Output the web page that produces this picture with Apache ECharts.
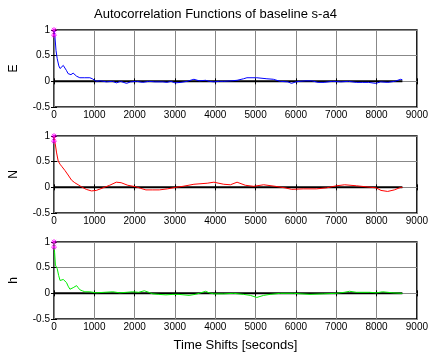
<!DOCTYPE html>
<html><head><meta charset="utf-8">
<script src="https://cdn.jsdelivr.net/npm/echarts@6/dist/echarts.min.js"></script>
<style>html,body{margin:0;padding:0;background:#fff}#c{width:431px;height:354px}</style>
</head><body><div id="c"></div>
<script>
var titleText = "Autocorrelation Functions of baseline s-a4";
var xAxisName = "Time Shifts [seconds]";
var panelNames = ["E", "N", "h"];
var xTicks = [0,1000,2000,3000,4000,5000,6000,7000,8000,9000];
var yTicks = [-0.5, 0, 0.5, 1];

var eLag = [0,20,50,80,120,150,190,230,270,310,350,375,420,475,520,560,600,640,750,890,950,980,1050,1150,1300,1450,1550,1650,1800,1900,2050,2200,2350,2500,2700,2800,2900,3000,3150,3300,3470,3600,3760,3850,3965,4100,4210,4400,4540,4700,4785,5030,5280,5440,5610,5800,5890,6000,6100,6250,6390,6550,6700,6900,7120,7300,7500,7650,7800,7980,8100,8280,8450,8600,8640];
var eVal = [1,0.9,0.6,0.44,0.3,0.25,0.27,0.31,0.26,0.21,0.15,0.12,0.13,0.16,0.13,0.10,0.08,0.07,0.07,0.07,0.05,0.02,0.0,0.01,-0.01,0.0,-0.03,0.0,-0.04,-0.01,0.0,-0.02,0.0,-0.01,-0.01,-0.02,0.0,-0.03,-0.02,0.0,0.04,0.01,0.02,0.0,-0.01,0.0,0.0,0.01,0.02,0.05,0.07,0.07,0.05,0.04,0.0,-0.01,-0.04,-0.01,0.0,0.01,0.01,-0.02,-0.02,0.0,-0.01,0.0,-0.02,-0.02,-0.02,-0.04,-0.01,-0.02,0.0,0.04,0.03];

var nLag = [0,30,65,105,150,190,270,350,435,515,600,680,800,930,1050,1215,1380,1545,1665,1830,2035,2150,2280,2450,2610,2815,3020,3200,3470,3800,3965,4210,4375,4540,4745,4950,5200,5485,5730,5895,6180,6510,6760,7005,7210,7500,7745,7990,8110,8275,8440,8600,8640];
var nVal = [1,0.85,0.67,0.51,0.45,0.41,0.33,0.24,0.14,0.09,0.05,0.01,-0.04,-0.07,-0.06,-0.01,0.04,0.10,0.09,0.04,0.01,-0.02,-0.05,-0.05,-0.05,-0.03,0.0,0.02,0.06,0.08,0.10,0.06,0.05,0.10,0.04,0.02,0.05,0.02,-0.01,-0.04,-0.03,-0.03,-0.01,0.03,0.05,0.03,0.01,-0.01,-0.06,-0.08,-0.05,0.0,0.0];

var hLag = [0,15,35,80,115,150,190,230,270,310,350,395,435,475,520,560,600,640,700,765,890,1050,1250,1460,1630,1800,1950,2100,2240,2350,2450,2600,2775,2950,3100,3350,3500,3600,3760,3850,3965,4210,4460,4700,4870,5030,5200,5360,5610,5935,6150,6350,6680,7000,7200,7330,7500,7825,8000,8150,8400,8640];
var hVal = [1,0.8,0.55,0.48,0.35,0.25,0.25,0.27,0.24,0.21,0.14,0.08,0.09,0.11,0.13,0.15,0.11,0.07,0.05,0.03,0.03,0.01,0.02,0.03,0.01,0.02,0.03,0.02,0.05,0.02,-0.01,-0.02,-0.03,-0.02,-0.02,-0.04,-0.02,0.0,0.04,0.01,-0.01,-0.01,0.0,-0.02,-0.04,-0.08,-0.04,-0.02,0.0,0.0,-0.01,-0.02,-0.01,0.0,0.02,0.04,0.02,0.02,0.01,0.03,0.01,0.0];

var markerLag = [0, 0];
var markerVal = [1, 0.9];
var zeroLineLag = [0, 8640];
var zeroLineVal = [0, 0];

var panelLags = [eLag, nLag, hLag];
var panelVals = [eVal, nVal, hVal];
var panelColors = ["#0000ff", "#ff0000", "#00ee00"];

function pairs(a, b) { return a.map(function(v, i){ return [v, b[i]]; }); }

var font = "Liberation Sans, Arial, sans-serif";
var tops = [30, 136, 242];
var grids = [], xAxes = [], yAxes = [], series = [];
var star = 'path://M0 5L10 5M5 0L5 10M1.5 1.5L8.5 8.5M8.5 1.5L1.5 8.5';

for (var i = 0; i < 3; i++) {
  grids.push({left: 54, right: 12, top: tops[i], height: 77, show: true, borderColor: '#000', borderWidth: 1.5, backgroundColor: '#fff'});
  var xi = xAxes.length;
  xAxes.push({type: 'value', gridIndex: i, min: 0, max: 9000, interval: 1000, position: 'bottom',
    axisLine: {show: false}, axisTick: {show: true, inside: true, length: 3, lineStyle: {color: '#000'}},
    axisLabel: {show: true, margin: 3, color: '#000', fontSize: 10, fontFamily: font,
      formatter: function(v){ return xTicks.indexOf(v) >= 0 ? String(v) : ''; }},
    splitLine: {show: true, lineStyle: {color: '#888', width: 1}},
    name: i === 2 ? xAxisName : '', nameLocation: 'middle', nameGap: 20,
    nameTextStyle: {color: '#000', fontSize: 13, fontFamily: font}});
  xAxes.push({type: 'value', gridIndex: i, min: 0, max: 9000, interval: 1000, position: 'top',
    axisLine: {show: false}, axisTick: {show: true, inside: true, length: 3, lineStyle: {color: '#000'}},
    axisLabel: {show: false}, splitLine: {show: false}});
  var yi = yAxes.length;
  yAxes.push({type: 'value', gridIndex: i, min: -0.5, max: 1, interval: 0.5, position: 'left',
    axisLine: {show: false}, axisTick: {show: true, inside: true, length: 3, lineStyle: {color: '#000'}},
    axisLabel: {show: true, margin: 4, color: '#000', fontSize: 10, fontFamily: font,
      formatter: function(v){ return String(v); }},
    splitLine: {show: true, lineStyle: {color: '#888', width: 1}},
    name: panelNames[i], nameLocation: 'middle', nameRotate: 90, nameGap: 34,
    nameTextStyle: {color: '#000', fontSize: 12, fontFamily: font}});
  yAxes.push({type: 'value', gridIndex: i, min: -0.5, max: 1, interval: 0.5, position: 'right',
    axisLine: {show: false}, axisTick: {show: true, inside: true, length: 3, lineStyle: {color: '#000'}},
    axisLabel: {show: false}, splitLine: {show: false}});
  series.push({type: 'line', xAxisIndex: xi, yAxisIndex: yi, data: pairs(zeroLineLag, zeroLineVal),
    showSymbol: false, lineStyle: {color: '#000', width: 2}, silent: true, z: 2});
  series.push({type: 'line', xAxisIndex: xi, yAxisIndex: yi, data: pairs(panelLags[i], panelVals[i]),
    showSymbol: false, lineStyle: {color: panelColors[i], width: 1}, silent: true, z: 3});
  series.push({type: 'scatter', xAxisIndex: xi, yAxisIndex: yi, data: pairs(markerLag, markerVal),
    symbol: star, symbolSize: 6, itemStyle: {color: 'none', borderColor: '#ff00ff', borderWidth: 1}, silent: true, z: 4});
}

var chart = echarts.init(document.getElementById('c'), null, {renderer: 'canvas'});
chart.setOption({
  animation: false,
  backgroundColor: '#fff',
  title: {text: titleText, left: 'center', top: 3, textStyle: {color: '#000', fontSize: 13, fontWeight: 'normal', fontFamily: font}},
  grid: grids, xAxis: xAxes, yAxis: yAxes, series: series
});
</script></body></html>
